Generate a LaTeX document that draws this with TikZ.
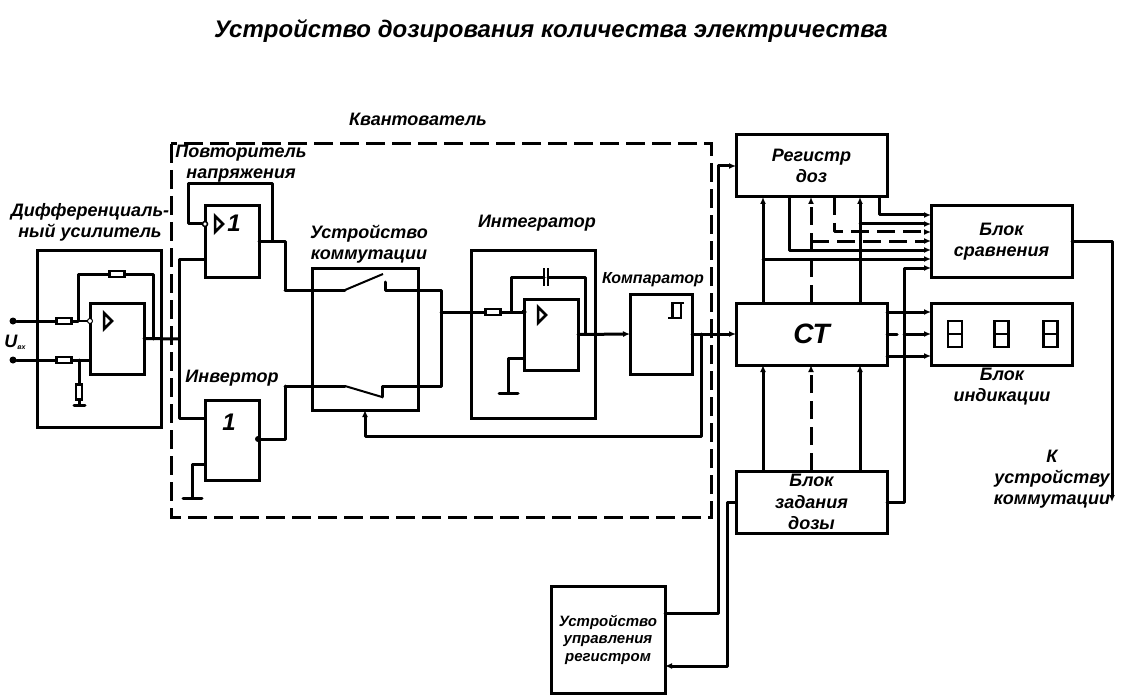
\documentclass[tikz,border=0pt]{standalone}
\usepackage{fontspec}
\setmainfont{Liberation Sans}
\usetikzlibrary{arrows.meta}
\tikzset{%
	block/.style = { draw, line width=3pt, inner sep=0pt, outer sep=0pt, align=center },
	caption/.style = { font=\bfseries\itshape\fontsize{18}{21}\selectfont, align=center, inner sep=0pt },
	wire/.style = { line width=3pt, line cap=round, line join=round },
	thinwire/.style = { line width=1.5pt },
	sig/.style = { wire, -{Latex[length=7pt,width=6pt]} },
	dashsig/.style = { sig, line cap=butt, dash pattern=on 18pt off 8pt },
	resist/.style = { draw, fill=white, line width=2.5pt, inner sep=0pt, minimum width=15pt, minimum height=6pt },
	vresist/.style = { resist, minimum width=6pt, minimum height=15pt },
	termdot/.style = { circle, fill=black, inner sep=0pt, minimum size=7pt },
	opendot/.style = { circle, draw, fill=white, line width=1pt, inner sep=0pt, minimum size=5pt },
	gate/.style = { line width=2.5pt, line join=miter },
	digit/.style = { line width=2.5pt }
}
\begin{document}
\begin{tikzpicture}[x=1pt, y=-1pt]
	\useasboundingbox (0,0) rectangle (1135,695);
	% title
	\node[caption, font=\bfseries\itshape\fontsize{24}{28}\selectfont] (title) at (551,31) {Устройство дозирования количества электричества};
	\node[caption] (quantlabel) at (418,119) {Квантователь};
	% quantizer frame
	\draw[line width=3pt, dash pattern=on 19pt off 7pt] (171,144) rectangle (711,517);
	% blocks
	\node[block, minimum width=124pt, minimum height=177pt] (diffamp) at (99,338.5) {};
	\node[block, minimum width=54pt, minimum height=71pt] (opone) at (117,338.5) {};
	\node[block, minimum width=54pt, minimum height=71pt] (follower) at (232,241.5) {};
	\node[block, minimum width=54pt, minimum height=80pt] (inverter) at (232,440) {};
	\node[block, minimum width=106pt, minimum height=142pt] (switchbox) at (365,339) {};
	\node[block, minimum width=124pt, minimum height=168pt] (integrator) at (533,334) {};
	\node[block, minimum width=54pt, minimum height=71pt] (optwo) at (551,334.5) {};
	\node[block, minimum width=62pt, minimum height=80pt] (comparator) at (661,334) {};
	\node[block, minimum width=151pt, minimum height=62pt, font=\bfseries\itshape\fontsize{18}{21}\selectfont] (regdose) at (811.5,166) {Регистр\\доз};
	\node[block, minimum width=151pt, minimum height=62pt, font=\bfseries\itshape\fontsize{28}{32}\selectfont] (counter) at (811.5,334) {СТ};
	\node[block, minimum width=151pt, minimum height=62pt, font=\bfseries\itshape\fontsize{18}{21.5}\selectfont] (doseset) at (811.5,502) {Блок\\задания\\дозы};
	\node[block, minimum width=141pt, minimum height=71pt, font=\bfseries\itshape\fontsize{18}{21}\selectfont] (compare) at (1001.5,241.5) {Блок\\сравнения};
	\node[block, minimum width=141pt, minimum height=62pt] (display) at (1001.5,334) {};
	\node[block, minimum width=114pt, minimum height=107pt, font=\bfseries\itshape\fontsize{15}{17.5}\selectfont] (regctl) at (608,639.5) {Устройство\\управления\\регистром};
	% labels
	\node[caption] (followerlabel) at (241,163.5) {Повторитель\\напряжения};
	\node[caption] (difflabel) at (90,222.5) {Дифференциаль-\\ный усилитель};
	\node[caption] (switchlabel) at (369,244.5) {Устройство\\коммутации};
	\node[caption] (intlabel) at (537,223) {Интегратор};
	\node[caption, font=\bfseries\itshape\fontsize{16}{19}\selectfont] (complabel) at (653,280) {Компаратор};
	\node[caption] (invlabel) at (232,378) {Инвертор};
	\node[caption] (displaylabel) at (1002,386.5) {Блок\\индикации};
	\node[caption] (tolabel) at (1052,479) {К\\устройству\\коммутации};
	\node[caption] (uin) at (15,342) {U\raisebox{-2pt}{\fontsize{7}{8}\selectfont вх}};
	\node[caption, font=\bfseries\itshape\fontsize{24}{28}\selectfont] (followerone) at (234,223) {1};
	\node[caption, font=\bfseries\itshape\fontsize{24}{28}\selectfont] (inverterone) at (229,422) {1};
	% differential amplifier
	\node[termdot] (inplus) at (13,321) {};
	\node[termdot] (inminus) at (13,360) {};
	\coordinate (oponeup) at (90,321);
	\coordinate (oponedown) at (90,360);
	\coordinate (feedone) at (78,321);
	\coordinate (feedonetop) at (78,274);
	\coordinate (feedoneend) at (153,339);
	\coordinate (gndone) at (79,405);
	\coordinate (gndonetop) at (79,360);
	\draw[wire] (inplus) -- (feedone);
	\draw[thinwire] (feedone) -- (oponeup);
	\draw[wire] (feedone) -- (feedonetop) -| (feedoneend);
	\draw[wire] (inminus) -- (oponedown);
	\draw[wire] (gndonetop) -- (gndone);
	\draw[wire] ([xshift=-5pt]gndone) -- ([xshift=6pt]gndone);
	\node[resist] (rone) at (64,321) {};
	\node[resist] (rtwo) at (64,360) {};
	\node[resist] (rthree) at (117,274) {};
	\node[vresist] (rfour) at (79,392) {};
	\node[opendot] (oponedot) at (oponeup) {};
	\draw[gate] (104,313) -- ++(8,8) -- ++(-8,8) -- cycle;
	% input bus
	\coordinate (bus) at (179,339);
	\coordinate (followerin) at (205,259);
	\coordinate (inverterin) at (205,418);
	\draw[wire] (opone.east) -- (bus);
	\draw[wire] (followerin) -| (bus) |- (inverterin);
	% follower
	\node[opendot, line width=1.5pt] (followerdot) at (205,224) {};
	\coordinate (followerloop) at (272,184);
	\coordinate (followerloopend) at (272,241);
	\coordinate (followerout) at (285,290);
	\draw[wire] (followerdot) -- (188,224) |- (followerloop) -- (followerloopend);
	\draw[gate] (215,216) -- ++(8,8) -- ++(-8,8) -- cycle;
	\draw[wire] (follower.east) -| (followerout);
	% inverter
	\node[termdot, minimum size=6pt] (inverterdot) at (258,439) {};
	\coordinate (inverterout) at (285,386);
	\coordinate (gndtwo) at (192,498);
	\draw[wire] (inverterdot) -| (inverterout);
	\draw[wire] (205,464) -| (gndtwo);
	\draw[wire] ([xshift=-9pt]gndtwo) -- ([xshift=10pt]gndtwo);
	% switches
	\coordinate (swupin) at (345,290);
	\coordinate (swuptip) at (383,274);
	\coordinate (swupout) at (385,282);
	\coordinate (swdownin) at (345,386);
	\coordinate (swdowntip) at (382,397);
	\coordinate (swdownout) at (382,386);
	\coordinate (swbus) at (441,290);
	\coordinate (swbusend) at (441,386);
	\coordinate (swmid) at (441,312);
	\draw[wire] (followerout) -- (swupin);
	\draw[line width=2pt] (swupin) -- (swuptip);
	\draw[wire] (swupout) |- (swbus) -- (swbusend) -- (swdownout) -- (swdowntip);
	\draw[wire] (inverterout) -- (swdownin);
	\draw[line width=2pt] (swdownin) -- (swdowntip);
	% integrator
	\coordinate (optwoin) at (524,312);
	\coordinate (feedtwo) at (511,312);
	\coordinate (capleft) at (544,277);
	\coordinate (capright) at (548,277);
	\coordinate (feedtwoend) at (585,334);
	\coordinate (gndthree) at (508,393);
	\draw[wire] (swmid) -- (optwoin);
	\node[resist] (rfive) at (493,312) {};
	\node[termdot, minimum size=5pt] (optwodot) at (optwoin) {};
	\draw[wire] (feedtwo) |- (capleft);
	\draw[wire] (capright) -| (feedtwoend);
	\draw[line width=2pt] ([yshift=9pt]capleft) -- ([yshift=-9pt]capleft);
	\draw[line width=2pt] ([yshift=9pt]capright) -- ([yshift=-9pt]capright);
	\draw[wire] (524,358) -| (gndthree);
	\draw[wire] ([xshift=-9pt]gndthree) -- ([xshift=10pt]gndthree);
	\draw[gate] (538,307) -- ++(8,8) -- ++(-8,8) -- cycle;
	\draw[sig] (optwo.east) -- (comparator.west);
	% comparator
	\draw[line width=2.5pt] (684,303) -- (672.5,303) -- (672.5,318) (668,318) -- (681,318) -- (681,303);
	\coordinate (cmpfeed) at (701,334);
	\coordinate (cmpfeedlow) at (701,436);
	\coordinate (switchctl) at (365,410);
	\draw[sig] (comparator.east) -- (counter.west);
	\draw[sig] (cmpfeed) -- (cmpfeedlow) -| (switchctl);
	% register controller
	\coordinate (regin) at (736,166);
	\coordinate (regmid) at (718,613);
	\coordinate (ctlback) at (665,666);
	\coordinate (setmid) at (727,502);
	\draw[sig] (665,613) -- (regmid) |- (regin);
	\draw[sig] (doseset.west) -- (setmid) |- (ctlback);
	% counter to register
	\draw[sig] (763,303) -- (763,197);
	\draw[dashsig] (811,303) -- (811,197);
	\draw[sig] (860,303) -- (860,197);
	% dose setter to counter
	\draw[sig] (763,471) -- (763,365);
	\draw[dashsig] (811,471) -- (811,365);
	\draw[sig] (860,471) -- (860,365);
	% compare inputs
	\draw[sig] (879,197) |- (931,215);
	\draw[sig] (860,224) -- (931,224);
	\draw[dashsig] (834,197) |- (931,232);
	\draw[dashsig] (811,241) -- (931,241);
	\draw[sig] (789,197) |- (931,250);
	\draw[sig] (763,259) -- (931,259);
	\coordinate (setup) at (904,268);
	\draw[sig] (doseset.east) -| (setup) -- (931,268);
	% counter to display
	\draw[sig] (887,312) -- (931,312);
	\draw[wire] (counter.east) -- (897,334);
	\draw[sig] (904,334) -- (display.west);
	\draw[sig] (887,356) -- (931,356);
	\foreach \px in {955,1001.5,1050.5} {
		\draw[digit] (\px-7,321) rectangle (\px+7,347) (\px-7,334) -- (\px+7,334);
	}
	% compare output
	\coordinate (toswitch) at (1112,502);
	\draw[sig] (compare.east) -| (toswitch);
\end{tikzpicture}
\end{document}
